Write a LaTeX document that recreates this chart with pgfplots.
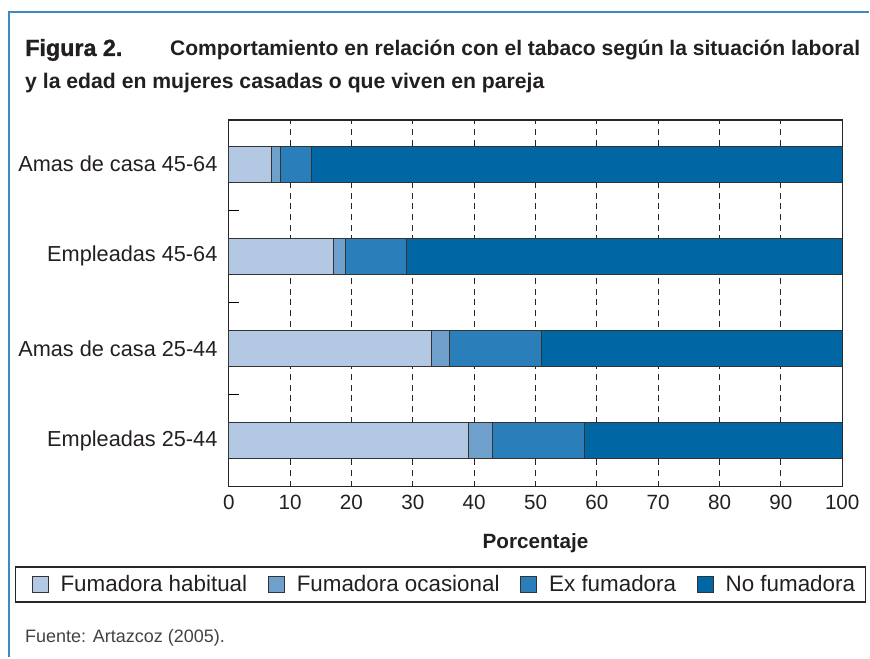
\documentclass[border=0pt]{standalone}
\usepackage{fontspec}
\setmainfont{Liberation Sans}
\newfontfamily\heavyfont{Liberation Sans}[BoldFeatures={FakeBold=1.2}]
\usepackage{pgfplots}
\pgfplotsset{compat=1.18}
\definecolor{cA}{HTML}{B3C8E3}
\definecolor{cB}{HTML}{6F9FCB}
\definecolor{cC}{HTML}{2A7FBA}
\definecolor{cD}{HTML}{0066A4}
\definecolor{frameblue}{HTML}{3A8AC8}
\definecolor{txt}{HTML}{231F20}
\begin{document}
\begin{tikzpicture}
\begin{scope}[x=0.75pt,y=-0.75pt]
\path (0,0) rectangle (870,658);
\draw[frameblue, line width=1.2pt] (9,658) -- (9,12) -- (870,12);
\node[anchor=base west, inner sep=0pt, text=txt, font=\fontsize{17.5}{19}\selectfont\heavyfont\bfseries] at (25,56) {Figura 2.};
\node[anchor=base west, inner sep=0pt, text=txt, font=\fontsize{15.8}{19}\selectfont\bfseries] at (170,56) {Comportamiento en relación con el tabaco según la situación laboral};
\node[anchor=base west, inner sep=0pt, text=txt, font=\fontsize{15.9}{19}\selectfont\bfseries] at (25,89) {y la edad en mujeres casadas o que viven en pareja};
\node[anchor=base west, inner sep=0pt, text=txt!85, font=\fontsize{13.5}{15}\selectfont] at (25,643) {Fuente: Artazcoz (2005).};
\end{scope}
\begin{axis}[
  at={(171.75pt,-90pt)}, anchor=north west,
  scale only axis, width=460.5pt, height=275.25pt,
  xbar stacked, bar width=0.39,
  xmin=0, xmax=100, ymin=-0.5, ymax=3.48,
  xtick={0,10,...,100},
  major x tick style={draw=none},
  ytick={0,1,2,3},
  yticklabels={Empleadas 25-44, Amas de casa 25-44, Empleadas 45-64, Amas de casa 45-64},
  major y tick style={draw=none},
  minor ytick={0.5,1.5,2.5},
  minor y tick style={black, line width=0.9pt},
  minor tick length=8pt,
  tick align=inside,
  ytick pos=left, xtick pos=bottom,
  xmajorgrids,
  major x grid style={black!85, dash pattern=on 4.5pt off 3.5pt, line width=0.7pt},
  axis line style={black!85, line width=1pt},
  /pgf/number format/assume math mode=true,
  xticklabel style={font=\fontsize{15.5}{18}\selectfont, text=txt, yshift=-3pt},
  yticklabel style={font=\fontsize{16.3}{19}\selectfont, text=txt, xshift=-5pt},
  xlabel={Porcentaje},
  xlabel style={font=\fontsize{15.5}{18}\selectfont\bfseries, text=txt, yshift=-11pt},
  legend columns=4,
  legend cell align=left,
  legend style={at={(-0.3485,-0.2180)}, anchor=north west,
    draw=black!85, line width=0.9pt,
    font=\fontsize{16.8}{19}\selectfont, text=txt,
    inner xsep=6pt, inner ysep=4.3pt,
    /tikz/every odd column/.append style={column sep=7pt},
    /tikz/every even column/.append style={column sep=7.5pt}},
  legend image code/.code={\path (0pt,0pt); \draw[#1, draw=black!80, line width=0.7pt] (6pt,-6pt) rectangle (18pt,6pt);},
  every axis plot/.append style={draw=black!80, line width=0.8pt},
]
\addplot[fill=cA] coordinates {(39,0) (33,1) (17,2) (7,3)};
\addlegendentry{Fumadora habitual}
\addplot[fill=cB] coordinates {(4,0) (3,1) (2,2) (1.5,3)};
\addlegendentry{Fumadora ocasional}
\addplot[fill=cC] coordinates {(15,0) (15,1) (10,2) (5,3)};
\addlegendentry{Ex fumadora}
\addplot[fill=cD] coordinates {(42,0) (49,1) (71,2) (86.5,3)};
\addlegendentry{No fumadora}
\end{axis}
\end{tikzpicture}
\end{document}
